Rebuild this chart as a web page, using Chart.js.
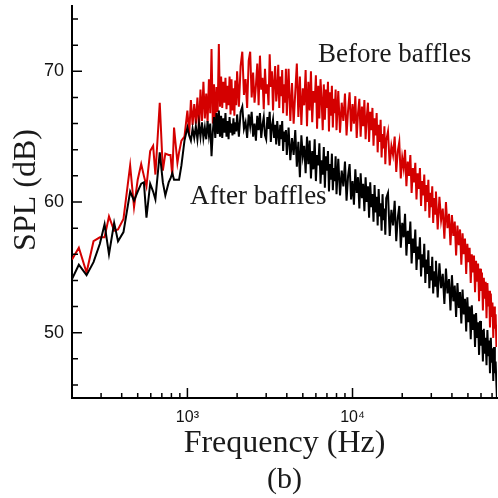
<!DOCTYPE html>
<html>
<head>
<meta charset="utf-8">
<script src="https://cdn.jsdelivr.net/npm/chart.js@4.4.1/dist/chart.umd.min.js"></script>
<style>
  html,body{margin:0;padding:0;background:#fff;}
  canvas{display:block;}
</style>
</head>
<body>
<canvas id="c" width="498" height="498"></canvas>
<script>
// ---- Data ----
const freqs = [
  200,220,245,270,295,315,335,360,380,410,450,475,500,525,545,565,595,620,640,680,710,735,770,790,810,830,870,890,920,960,1000,
  1025,1050,1075,1100,1125,1150,1175,1200,1225,1250,1275,1300,1325,1350,1375,1400,1425,1450,1475,1500,1525,1550,1575,1600,1625,1650,1675,1700,1725,1750,1775,1800,1825,1850,1875,1900,1925,1950,1975,2000,
  2050,2100,2150,2200,2250,2300,2350,2400,2450,2500,2550,2600,2650,2700,2750,2800,2850,2900,2950,3000,3050,3100,3150,3200,3250,3300,3350,3400,3450,3500,3550,3600,3650,3700,3750,3800,3850,3900,3950,4000,
  4100,4200,4300,4400,4500,4600,4700,4800,4900,5000,5100,5200,5300,5400,5500,5600,5700,5800,5900,6000,6100,6200,6300,6400,6500,6600,6700,6800,6900,7000,7100,7200,7300,7400,7500,7600,7700,7800,7900,8000,
  8200,8400,8600,8800,9000,9200,9400,9600,9800,10000,10200,10400,10600,10800,11000,11200,11400,11600,11800,12000,12200,12400,12600,12800,13000,13200,13400,13600,13800,14000,14200,14400,14600,14800,15000,15200,15400,15600,15800,16000,
  16400,16800,17200,17600,18000,18400,18800,19200,19600,20000,20400,20800,21200,21600,22000,22400,22800,23200,23600,24000,24400,24800,25200,25600,26000,26400,26800,27200,27600,28000,28400,28800,29200,29600,30000,30400,30800,31200,31600,32000,
  32800,33600,34400,35200,36000,36800,37600,38400,39200,40000,40800,41600,42400,43200,44000,44800,45600,46400,47200,48000,48800,49600,50400,51200,52000,52800,53600,54400,55200,56000,56800,57600,58400,59200,60000,60800,61600,62400,63200,64000,
  64800,65600,66400,67200,68000,68800,69600,70400,71200,72000,72800,73600,74400,75200
];

const beforeBaffles = [
  55.6,56.5,54.6,57.0,57.3,57.3,58.9,57.8,57.9,58.7,62.8,59.6,61.7,62.9,62.0,61.2,63.9,64.3,62.1,67.6,62.4,63.7,63.6,63.6,62.0,65.7,63.0,63.8,64.7,65.0,67.0,
  65.2,67.8,65.9,67.5,66.0,68.0,65.6,68.6,66.2,69.2,66.4,68.3,66.1,69.4,66.8,71.7,66.0,69.0,65.9,68.8,66.9,72.1,67.3,69.6,67.2,69.2,67.6,69.5,67.1,68.9,67.4,69.6,66.7,69.4,67.0,68.7,66.6,69.3,67.4,70.0,
  67.3,70.4,71.5,68.2,69.4,67.2,70.8,71.5,68.0,69.9,67.6,68.9,70.6,67.4,71.2,68.6,69.5,67.1,70.2,68.3,69.0,67.4,71.3,68.8,70.0,67.0,69.2,70.4,67.7,68.6,70.5,67.2,69.6,68.1,70.1,66.8,69.0,67.6,70.2,66.6,
  70.2,66.2,69.1,66.0,68.4,70.6,66.5,69.6,65.9,68.7,67.4,70.1,65.8,69.2,67.0,70.0,66.1,68.5,67.6,69.7,65.6,68.9,66.4,69.4,67.8,65.5,69.0,66.3,68.6,67.2,69.2,65.4,68.4,66.6,68.9,65.7,67.9,66.8,68.6,65.5,
  68.5,65.3,67.6,66.2,68.3,65.1,67.0,68.4,65.4,67.5,66.0,68.1,64.9,66.8,67.9,65.0,67.3,65.8,67.8,64.8,66.5,67.6,64.6,66.9,65.5,67.2,64.3,66.4,65.1,66.8,63.8,65.9,64.6,66.3,63.4,65.2,64.1,65.8,62.9,64.7,
  65.4,62.8,64.3,63.6,65.0,62.3,63.9,64.6,61.8,63.4,62.6,64.0,61.2,63.1,62.0,63.6,60.7,62.6,61.5,63.0,60.2,62.2,61.0,62.6,59.7,61.6,60.5,62.1,59.3,61.3,60.0,61.7,58.8,60.7,59.6,61.2,58.4,60.3,59.1,60.8,
  57.9,60.4,58.6,59.5,57.2,60.0,58.0,59.1,56.7,59.0,57.4,58.5,55.9,58.2,56.7,57.9,55.2,57.6,56.0,57.2,54.5,56.8,55.4,56.5,53.8,56.0,54.6,55.9,53.1,55.5,53.9,55.3,52.4,54.9,53.2,54.6,51.7,54.2,52.6,53.9,
  51.1,53.8,52.0,53.2,50.4,53.0,51.2,52.3,49.6,52.0,50.3,51.4,48.9,50.6
];

const afterBaffles = [
  54.1,55.2,54.4,55.4,56.8,58.3,56.0,58.4,57.0,57.7,60.8,60.1,60.8,61.4,61.5,58.8,61.4,60.8,60.2,63.8,61.5,60.5,61.5,61.8,62.2,61.7,61.7,61.7,62.8,64.7,65.7,
  65.1,64.7,65.6,64.9,65.8,64.8,66.0,65.0,66.1,64.9,65.7,64.8,66.2,65.1,66.0,63.5,65.4,66.5,64.9,66.8,65.2,67.0,65.0,66.6,64.9,66.4,65.3,66.8,65.0,66.2,64.8,66.5,65.3,66.0,65.1,66.4,65.2,66.1,65.4,66.7,
  65.0,66.9,67.3,65.6,66.1,64.9,66.7,65.8,66.9,65.0,66.0,64.7,66.6,65.5,66.8,64.9,65.9,66.5,65.1,64.8,66.5,65.6,66.9,64.6,65.8,66.3,64.9,65.9,64.4,66.2,65.2,64.3,65.9,64.8,66.2,63.9,65.4,64.6,65.5,63.6,
  65.7,63.2,64.9,63.6,65.5,62.7,64.6,61.9,65.1,63.5,64.3,62.2,65.0,62.9,64.7,61.8,63.9,62.5,64.8,61.6,63.6,62.8,64.5,61.4,63.2,62.1,64.2,61.1,63.5,62.4,63.9,60.8,62.9,61.7,63.7,60.9,62.6,61.6,63.5,60.6,
  63.3,60.5,62.4,61.2,63.1,60.1,62.0,62.9,60.2,61.6,59.8,62.5,60.7,61.9,59.5,62.2,60.3,61.4,59.3,61.9,60.0,61.2,58.8,61.5,59.6,60.6,58.5,61.3,59.2,60.4,58.2,61.0,58.9,59.9,57.8,60.6,58.6,59.5,57.5,60.3,
  60.7,57.4,59.4,58.2,60.1,57.0,58.8,59.7,56.5,58.4,57.3,59.1,55.9,57.8,56.8,58.5,55.3,57.2,56.1,57.9,54.8,56.6,55.6,57.3,54.3,56.0,55.0,56.8,53.8,55.6,54.5,56.3,53.4,55.1,54.0,55.8,53.0,54.7,53.6,55.5,
  52.7,55.3,53.4,54.5,52.2,54.9,53.0,54.1,51.7,54.4,52.4,53.6,51.2,53.8,51.9,53.1,50.7,53.3,51.4,52.6,50.1,52.7,50.8,52.0,49.5,52.1,50.2,51.4,48.9,51.5,49.6,50.8,48.3,50.9,49.0,50.2,47.8,50.3,48.4,49.6,
  47.5,50.2,48.2,49.4,46.9,49.6,47.7,48.8,46.3,48.9,46.9,47.8,46.0,44.5
];

// ---- Axis ticks ----
const xRange = [200, 75000];
const yRange = [45, 75];
const xTickValues = [1000, 10000];
const xTickLabels = ['10\u00B3', '10\u2074'];
const xMinorTicks = [300,400,500,600,700,800,900,2000,3000,4000,5000,6000,7000,8000,9000,20000,30000,40000,50000,60000,70000];
const yTickValues = [50, 60, 70];
const yMinorTicks = [46,48,52,54,56,58,62,64,66,68,72,74];

// ---- Text annotations (anchored in data coordinates) ----
const noteTexts = ['Before baffles', 'After baffles'];
const noteFreqs = [6180, 1036];
const noteDb = [70.7, 59.85];

const toPoints = (vals) => freqs.map((f, i) => ({ x: f, y: vals[i] }));

const decor = {
  id: 'decor',
  afterDraw(chart) {
    const { ctx, chartArea: a, scales: { x, y } } = chart;
    ctx.save();
    ctx.strokeStyle = '#000';
    ctx.lineWidth = 1.5;
    ctx.beginPath();
    yTickValues.concat(yMinorTicks).forEach(v => {
      const p = y.getPixelForValue(v);
      const len = yTickValues.includes(v) ? 10 : 6;
      ctx.moveTo(a.left, p); ctx.lineTo(a.left + len, p);
    });
    xTickValues.concat(xMinorTicks).forEach(v => {
      const p = x.getPixelForValue(v);
      const len = xTickValues.includes(v) ? 10 : 5;
      ctx.moveTo(p, a.bottom); ctx.lineTo(p, a.bottom - len);
    });
    ctx.stroke();

    ctx.fillStyle = '#1a1a1a';
    ctx.font = '27px "Liberation Serif"';
    ctx.textAlign = 'left';
    ctx.textBaseline = 'alphabetic';
    noteTexts.forEach((t, i) => {
      ctx.fillText(t, x.getPixelForValue(noteFreqs[i]), y.getPixelForValue(noteDb[i]));
    });

    ctx.font = '30px "Liberation Serif"';
    ctx.textAlign = 'center';
    ctx.fillText('(b)', (a.left + a.right) / 2, 488);
    ctx.restore();
  }
};

new Chart(document.getElementById('c'), {
  type: 'line',
  data: {
    datasets: [
      { label: 'After baffles', data: toPoints(afterBaffles), borderColor: '#000000', borderWidth: 2, pointRadius: 0, tension: 0, order: 0 },
      { label: 'Before baffles', data: toPoints(beforeBaffles), borderColor: '#d40000', borderWidth: 2, pointRadius: 0, tension: 0, order: 1 }
    ]
  },
  options: {
    responsive: false,
    animation: false,
    devicePixelRatio: 1,
    layout: { padding: { top: 6, right: 1, left: 0, bottom: 0 } },
    plugins: { legend: { display: false }, tooltip: { enabled: false } },
    scales: {
      x: {
        type: 'logarithmic',
        min: xRange[0], max: xRange[1],
        grid: { display: false, drawTicks: false },
        border: { display: true, color: '#000', width: 2 },
        ticks: {
          color: '#111', padding: 10,
          font: { family: '"Liberation Sans"', size: 16 },
          maxRotation: 0, autoSkip: false,
          callback: (v) => { const i = xTickValues.indexOf(v); return i >= 0 ? xTickLabels[i] : ''; }
        },
        afterBuildTicks: (s) => { s.ticks = xTickValues.map(v => ({ value: v })); },
        afterFit: (s) => { s.height = 100; s.paddingLeft = 0; s.paddingRight = 0; },
        title: {
          display: true, text: 'Frequency (Hz)', color: '#1a1a1a',
          font: { family: '"Liberation Serif"', size: 32 },
          padding: { top: 0, bottom: 35 }
        }
      },
      y: {
        min: yRange[0], max: yRange[1],
        grid: { display: false, drawTicks: false },
        border: { display: true, color: '#000', width: 2 },
        ticks: {
          color: '#111', padding: 8,
          font: { family: '"Liberation Sans"', size: 18 },
          callback: (v) => String(v)
        },
        afterBuildTicks: (s) => { s.ticks = yTickValues.map(v => ({ value: v })); },
        afterFit: (s) => { s.width = 72; s.paddingTop = 0; s.paddingBottom = 0; },
        title: {
          display: true, text: '   SPL (dB)', color: '#1a1a1a',
          font: { family: '"Liberation Serif"', size: 32 },
          padding: { top: 7, bottom: 0 }
        }
      }
    }
  },
  plugins: [decor]
});
</script>
</body>
</html>
